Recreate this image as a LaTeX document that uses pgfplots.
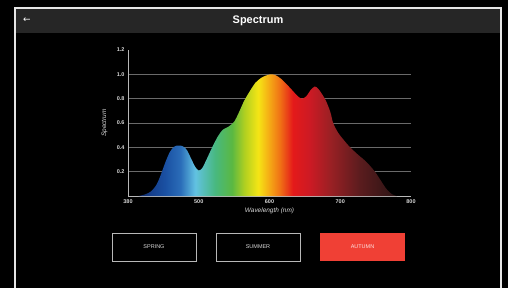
\documentclass[border=0pt]{standalone}
\usepackage{fontspec}
\setmainfont{Liberation Sans}
\newfontfamily\symfont{DejaVu Sans}
\usepackage{pgfplots}
\pgfplotsset{compat=1.18}
\definecolor{sA}{HTML}{0E2660}
\definecolor{sB}{HTML}{143C88}
\definecolor{sC}{HTML}{1A50A2}
\definecolor{sD}{HTML}{2A6CB8}
\definecolor{sE}{HTML}{62C2E2}
\definecolor{sF}{HTML}{48B880}
\definecolor{sG}{HTML}{5AB842}
\definecolor{sH}{HTML}{B2D020}
\definecolor{sI}{HTML}{F5E515}
\definecolor{sJ}{HTML}{F5B015}
\definecolor{sK}{HTML}{F07015}
\definecolor{sL}{HTML}{E41A1A}
\definecolor{sM}{HTML}{CC1A24}
\definecolor{sN}{HTML}{9A2024}
\definecolor{sO}{HTML}{5A1C1E}
\definecolor{sP}{HTML}{2A1414}
\definecolor{titlebg}{HTML}{262626}
\definecolor{bordercol}{HTML}{E6E6E6}
\definecolor{gridcol}{HTML}{6A6A6A}
\definecolor{axcol}{HTML}{B8B8B8}
\definecolor{txtcol}{HTML}{D8D8D8}
\definecolor{btnred}{HTML}{F04035}
\pgfdeclarehorizontalshading{spectrum}{100bp}{color(0bp)=(sA); color(25bp)=(sA); color(27.05bp)=(sB); color(30.07bp)=(sC); color(33.08bp)=(sD); color(35.96bp)=(sE); color(39.79bp)=(sF); color(43.08bp)=(sG); color(45.55bp)=(sH); color(48.15bp)=(sI); color(50.07bp)=(sJ); color(52.40bp)=(sK); color(54.86bp)=(sL); color(58.15bp)=(sM); color(62.12bp)=(sN); color(67.88bp)=(sO); color(75bp)=(sP); color(100bp)=(sP)}
\begin{document}
\begin{tikzpicture}[x=1bp,y=1bp]
\fill[black] (0,0) rectangle (508,288);
\fill[titlebg] (15,255) rectangle (501,280);
\draw[bordercol, line width=1.5bp] (15,0) -- (15,280) -- (501,280) -- (501,0);
\node[white, font=\bfseries\fontsize{11}{13}\selectfont] at (258,267.5) {Spectrum};
\node[white, font=\symfont\fontsize{9}{11}\selectfont] at (27,268) {←};
\begin{axis}[
  at={(128bp,92bp)}, anchor=south west,
  scale only axis, width=283bp, height=146bp,
  xmin=400, xmax=800, ymin=0, ymax=1.2,
  axis x line*=bottom, axis y line*=left,
  axis line style={axcol, line width=0.8bp, -},
  xtick={400,500,600,700,800},
  xticklabels={380,500,600,700,800},
  ytick={0.2,0.4,0.6,0.8,1.0},
  extra y ticks={1.2},
  extra y tick style={grid=none},
  ymajorgrids,
  grid style={gridcol, line width=0.8bp},
  major tick length=0pt,
  /pgf/number format/assume math mode=true,
  /pgf/number format/.cd, fixed, fixed zerofill, precision=1, /pgfplots/.cd,
  tick label style={txtcol, font=\bfseries\fontsize{5.5}{6.5}\selectfont},
  xticklabel style={yshift=-0.5bp},
  xlabel={\itshape Wavelength (nm)},
  ylabel={\itshape Spectrum},
  label style={txtcol, font=\fontsize{6.5}{7.5}\selectfont},
  xlabel style={at={(axis description cs:0.5,-0.1)}, anchor=center},
  ylabel style={at={(axis description cs:-0.083,0.5)}, anchor=center},
]
\addplot[draw=none, shading=spectrum, smooth] coordinates {
(415,0) (425,0.015) (433,0.04) (440,0.09) (444,0.14) (448,0.2) (453,0.28) (459,0.36) (465,0.405) (471,0.415) (477,0.41) (483,0.38) (489,0.31) (495,0.24) (500,0.21) (505,0.23) (511,0.3) (519,0.4) (527,0.49) (534,0.545) (542,0.57) (550,0.61) (557,0.69) (564,0.78) (572,0.86) (580,0.93) (588,0.97) (595,0.99) (601,1.0) (608,0.995) (616,0.965) (624,0.92) (632,0.87) (640,0.82) (646,0.8) (652,0.82) (658,0.87) (664,0.9) (669,0.88) (674,0.84) (680,0.78) (686,0.69) (690,0.6) (697,0.52) (705,0.46) (714,0.4) (725,0.34) (737,0.28) (749,0.2) (757,0.13) (765,0.06) (773,0.015) (780,0)
} \closedcycle;
\end{axis}
\draw[axcol, line width=1bp] (112,27) rectangle (196,55);
\node[txtcol, font=\fontsize{5.5}{6}\selectfont] at (154,41) {SPRING};
\draw[axcol, line width=1bp] (216,27) rectangle (300,55);
\node[txtcol, font=\fontsize{5.5}{6}\selectfont] at (258,41) {SUMMER};
\fill[btnred] (320,27) rectangle (405,55);
\node[white!85!btnred, font=\fontsize{5.5}{6}\selectfont] at (362.5,41) {AUTUMN};
\end{tikzpicture}
\end{document}
